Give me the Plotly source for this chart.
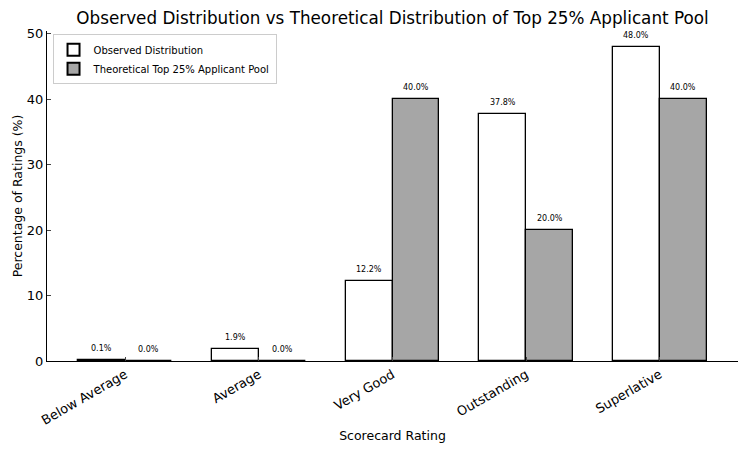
import plotly.graph_objects as go

categories = ["Below Average", "Average", "Very Good", "Outstanding", "Superlative"]
observed = [0.1, 1.9, 12.2, 37.8, 48.0]
theoretical = [0.0, 0.0, 40.0, 20.0, 40.0]
y_ticks = [0, 10, 20, 30, 40, 50]

w = 0.35
idx = list(range(len(categories)))
x_obs = [i - w / 2 for i in idx]
x_the = [i + w / 2 for i in idx]

fig = go.Figure()
fig.add_trace(go.Bar(x=x_obs, y=observed, width=w, name="Observed Distribution",
                     marker=dict(color="white", line=dict(color="black", width=1.3))))
fig.add_trace(go.Bar(x=x_the, y=theoretical, width=w, name="Theoretical Top 25% Applicant Pool",
                     marker=dict(color="#a6a6a6", line=dict(color="black", width=1.3))))

for xs, ys in ((x_obs, observed), (x_the, theoretical)):
    for xv, yv in zip(xs, ys):
        fig.add_annotation(x=xv, y=yv, text=f"{yv:.1f}%", showarrow=False,
                           yanchor="bottom", yshift=5,
                           font=dict(size=8, color="black"))

fig.update_layout(
    width=750, height=450,
    margin=dict(l=47, r=12, t=31, b=89, autoexpand=False),
    paper_bgcolor="white", plot_bgcolor="white",
    font=dict(family="DejaVu Sans", color="black"),
    title=dict(text="Observed Distribution vs Theoretical Distribution of Top 25% Applicant Pool",
               x=0.5, xref="paper", xanchor="center", y=0.96, yanchor="middle",
               font=dict(size=16.8)),
    showlegend=True,
    legend=dict(x=0.008, y=0.99, xanchor="left", yanchor="top",
                bgcolor="white", bordercolor="#cccccc", borderwidth=1,
                font=dict(size=10), itemsizing="constant", tracegroupgap=0),
    bargap=0,
)
fig.update_xaxes(range=[-0.585, 4.585], tickvals=idx, ticktext=categories,
                 tickangle=-30, ticks="inside", ticklen=4, showgrid=False,
                 zeroline=False, showline=True, linecolor="black", linewidth=1.2,
                 tickfont=dict(size=13), automargin=False,
                 title=dict(text="Scorecard Rating", font=dict(size=12.5), standoff=4))
fig.update_yaxes(range=[0, 50.4], tickvals=y_ticks, ticks="inside", ticklen=4,
                 showgrid=False, zeroline=False, showline=True, linecolor="black",
                 linewidth=1.2, tickfont=dict(size=13), automargin=False,
                 title=dict(text="Percentage of Ratings (%)", font=dict(size=12.5), standoff=1))

fig.write_html("out.html")
